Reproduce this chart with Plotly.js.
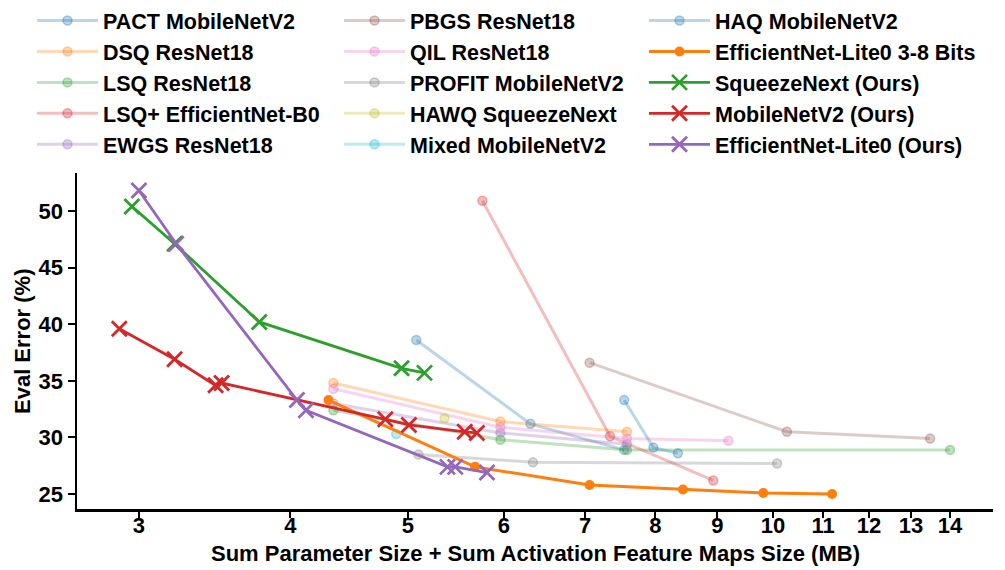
<!DOCTYPE html>
<html>
<head>
<meta charset="utf-8">
<script src="https://cdn.plot.ly/plotly-3.0.1.min.js"></script>
<style>html,body{margin:0;padding:0;background:#fff;}#chart{width:1005px;height:570px;}</style>
</head>
<body>
<div id="chart"></div>
<script>
// ---- data ----
const pactX = [5.08, 6.31, 7.54];          const pactY = [38.6, 31.2, 28.9];
const dsqX = [4.34, 5.96, 7.58];           const dsqY = [34.8, 31.4, 30.5];
const lsqX = [4.34, 5.96, 7.58, 14.0];     const lsqY = [32.4, 29.8, 28.9, 28.9];
const lsqpX = [5.76, 7.34, 8.93];          const lsqpY = [50.9, 30.1, 26.2];
const ewgsX = [4.34, 5.96, 7.58];          const ewgsY = [33.0, 30.4, 29.4];
const pbgsX = [7.06, 10.27, 13.48];        const pbgsY = [36.6, 30.5, 29.9];
const qilX = [4.34, 5.96, 7.58, 9.19];     const qilY = [34.3, 30.9, 29.9, 29.7];
const profitX = [5.10, 6.34, 10.08];       const profitY = [28.5, 27.8, 27.7];
const hawqX = [5.36];                      const hawqY = [31.7];
const mixedX = [4.89];                     const mixedY = [30.3];
const haqX = [7.54, 7.97, 8.35];           const haqY = [33.3, 29.1, 28.6];
const effBitsX = [4.30, 5.68, 7.06, 8.43, 9.82, 11.19];
const effBitsY = [33.3, 27.4, 25.8, 25.4, 25.1, 25.0];
const sqzX = [2.96, 3.21, 3.77, 4.94, 5.16];
const sqzY = [50.4, 47.1, 40.2, 36.1, 35.7];
const mbX = [2.89, 3.21, 3.47, 3.51, 4.79, 5.01, 5.57, 5.70];
const mbY = [39.6, 36.9, 34.6, 34.8, 31.6, 31.1, 30.5, 30.4];
const effOursX = [3.00, 3.22, 4.05, 4.12, 5.39, 5.47, 5.81];
const effOursY = [51.8, 47.1, 33.3, 32.4, 27.4, 27.4, 26.9];

const xTicks = [3, 4, 5, 6, 7, 8, 9, 10, 11, 12, 13, 14];
const yTicks = [25, 30, 35, 40, 45, 50];
const xTitle = 'Sum Parameter Size + Sum Activation Feature Maps Size (MB)';
const yTitle = 'Eval Error (%)';

const FONT = 'Liberation Sans, Arial, sans-serif';
const FS = 22;

function rgba(hex, a) {
  const r = parseInt(hex.slice(1,3),16), g = parseInt(hex.slice(3,5),16), b = parseInt(hex.slice(5,7),16);
  return `rgba(${r},${g},${b},${a})`;
}
function faded(name, x, y, color, legend) {
  return {
    type: 'scatter', mode: 'lines+markers', name: name, x: x, y: y, legend: legend,
    line: {color: rgba(color, 0.3), width: 3},
    marker: {symbol: 'circle', size: 9, color: rgba(color, 0.3), line: {color: rgba(color, 0.35), width: 1.5}}
  };
}
function ours(name, x, y, color, legend) {
  return {
    type: 'scatter', mode: 'lines+markers', name: name, x: x, y: y, legend: legend,
    line: {color: color, width: 2.8},
    marker: {symbol: 'x-thin', size: 15, color: color, line: {color: color, width: 2.8}}
  };
}

const traces = [
  faded('PACT MobileNetV2', pactX, pactY, '#1f77b4', 'legend'),
  faded('DSQ ResNet18', dsqX, dsqY, '#ff7f0e', 'legend'),
  faded('LSQ ResNet18', lsqX, lsqY, '#2ca02c', 'legend'),
  faded('LSQ+ EfficientNet-B0', lsqpX, lsqpY, '#d62728', 'legend'),
  faded('EWGS ResNet18', ewgsX, ewgsY, '#9467bd', 'legend'),
  faded('PBGS ResNet18', pbgsX, pbgsY, '#8c564b', 'legend2'),
  faded('QIL ResNet18', qilX, qilY, '#e377c2', 'legend2'),
  faded('PROFIT MobileNetV2', profitX, profitY, '#7f7f7f', 'legend2'),
  faded('HAWQ SqueezeNext', hawqX, hawqY, '#bcbd22', 'legend2'),
  faded('Mixed MobileNetV2', mixedX, mixedY, '#17becf', 'legend2'),
  faded('HAQ MobileNetV2', haqX, haqY, '#1f77b4', 'legend3'),
  {
    type: 'scatter', mode: 'lines+markers', name: 'EfficientNet-Lite0 3-8 Bits', x: effBitsX, y: effBitsY, legend: 'legend3',
    line: {color: '#ff7f0e', width: 3}, marker: {symbol: 'circle', size: 10, color: '#ff7f0e'}
  },
  ours('SqueezeNext (Ours)', sqzX, sqzY, '#2ca02c', 'legend3'),
  ours('MobileNetV2 (Ours)', mbX, mbY, '#d62728', 'legend3'),
  ours('EfficientNet-Lite0 (Ours)', effOursX, effOursY, '#9467bd', 'legend3')
];

const W = 1005, H = 570;
const ML = 77, MR = 12, MT = 173, MB = 61;
const PW = W - ML - MR, PH = H - MT - MB;

const legendBase = {
  xref: 'container', yref: 'container', xanchor: 'left', yanchor: 'top', y: 1.0 + 1 / H,
  bgcolor: 'rgba(0,0,0,0)', borderwidth: 0, itemwidth: 61, tracegroupgap: 0,
  font: {family: FONT, size: 21.5, color: '#000', weight: 'bold'}, orientation: 'v'
};
const titleFont = {family: FONT, size: FS, color: '#000', weight: 'bold'};

const layout = {
  width: W, height: H,
  margin: {l: ML, r: MR, t: MT, b: MB, autoexpand: false},
  paper_bgcolor: '#fff', plot_bgcolor: '#fff',
  font: {family: FONT, size: FS, color: '#000', weight: 'bold'},
  showlegend: true,
  legend: Object.assign({}, legendBase, {x: 32 / W}),
  legend2: Object.assign({}, legendBase, {x: 339 / W}),
  legend3: Object.assign({}, legendBase, {x: 644 / W}),
  xaxis: {
    type: 'log', range: [Math.log10(2.667), Math.log10(15.19)],
    tickvals: xTicks, ticktext: xTicks.map(String),
    ticks: 'outside', ticklen: 6, tickwidth: 2, tickcolor: '#000', ticklabelstandoff: -11,
    showline: true, linecolor: '#000', linewidth: 2.5, showgrid: false, zeroline: false,
    tickfont: {family: FONT, size: FS, color: '#000', weight: 'bold'}
  },
  yaxis: {
    range: [23.68, 53.35], tickvals: yTicks,
    ticks: 'outside', ticklen: 7, tickwidth: 2, tickcolor: '#000',
    showline: true, linecolor: '#000', linewidth: 2.5, showgrid: false, zeroline: false,
    tickfont: {family: FONT, size: FS, color: '#000', weight: 'bold'}
  },
  annotations: [
    {text: xTitle, xref: 'paper', yref: 'paper', x: 0.5, y: -(553 - MT - PH) / PH,
     xanchor: 'center', yanchor: 'middle', showarrow: false, font: titleFont},
    {text: yTitle, xref: 'paper', yref: 'paper', x: -(ML - 22) / PW, y: 0.5, textangle: -90,
     xanchor: 'center', yanchor: 'middle', showarrow: false, font: titleFont}
  ]
};

Plotly.newPlot('chart', traces, layout, {displayModeBar: false, staticPlot: true});
</script>
</body>
</html>
